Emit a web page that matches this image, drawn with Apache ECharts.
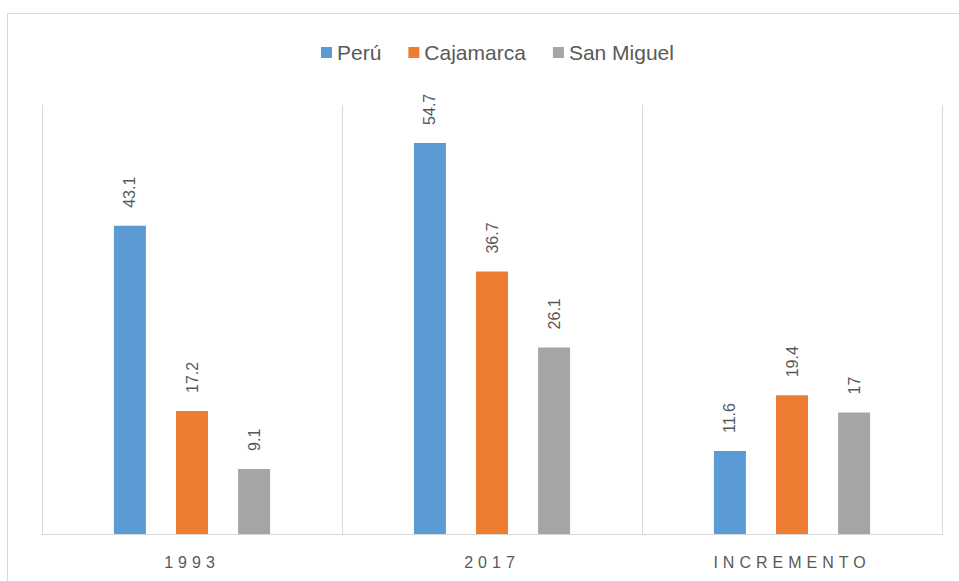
<!DOCTYPE html>
<html><head><meta charset="utf-8">
<script src="https://cdn.jsdelivr.net/npm/echarts@6/dist/echarts.min.js"></script>
<style>html,body{margin:0;padding:0;background:#fff}#c{width:959px;height:581px}</style>
</head><body><div id="c"></div>
<script>
const categories = ['1993', '2017', 'INCREMENTO'];
const seriesNames = ['Perú', 'Cajamarca', 'San Miguel'];
const peru = [43.1, 54.7, 11.6];
const cajamarca = [17.2, 36.7, 19.4];
const sanMiguel = [9.1, 26.1, 17];
const colors = ['#5b9bd5', '#ed7d31', '#a5a5a5'];

const chart = echarts.init(document.getElementById('c'), null, { renderer: 'svg' });
const font = 'Liberation Sans, Arial, sans-serif';
function mk(name, data, color) {
  return {
    name, type: 'bar', data, barWidth: 32, barGap: '94%',
    itemStyle: { color },
    label: { show: true, position: 'top', rotate: 90, align: 'left', verticalAlign: 'middle',
      distance: 18, color: '#595959', fontSize: 16, fontFamily: font,
      formatter: p => String(p.value) }
  };
}
chart.setOption({
  animation: false,
  textStyle: { fontFamily: font },
  graphic: [{ type: 'rect', shape: { x: 7.5, y: 13.5, width: 1000, height: 700 },
    style: { fill: 'none', stroke: '#d9d9d9', lineWidth: 1 }, silent: true }],
  legend: {
    top: 37, left: 316, itemWidth: 11, itemHeight: 11, itemGap: 27,
    icon: 'rect', textStyle: { color: '#595959', fontSize: 21, fontFamily: font },
    data: seriesNames
  },
  grid: { left: 42, right: 17, top: 105, bottom: 47 },
  xAxis: {
    type: 'category', data: categories,
    axisLine: { lineStyle: { color: '#d9d9d9', width: 1 } },
    axisTick: { show: false },
    splitLine: { show: true, lineStyle: { color: '#d9d9d9', width: 1 } },
    axisLabel: { color: '#595959', fontSize: 16, margin: 20, fontFamily: font }
  },
  yAxis: { type: 'value', min: 0, max: 60, show: false, splitLine: { show: false } },
  series: [mk(seriesNames[0], peru, colors[0]), mk(seriesNames[1], cajamarca, colors[1]), mk(seriesNames[2], sanMiguel, colors[2])]
});
// letter-spaced category labels, as in the reference
document.querySelectorAll('#c svg text').forEach(t => {
  if (categories.includes(t.textContent)) {
    t.setAttribute('letter-spacing', '5px');
    t.style.letterSpacing = '5px';
  }
});
</script></body></html>
